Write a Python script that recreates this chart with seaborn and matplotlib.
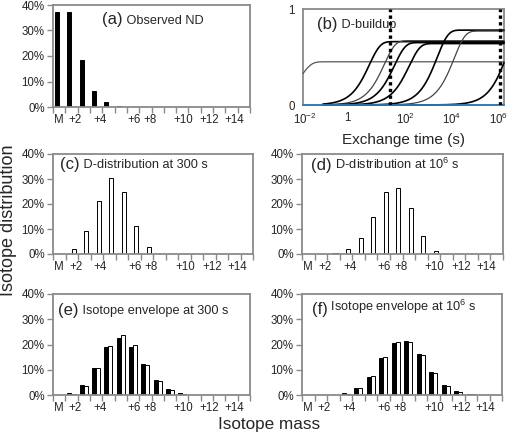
import numpy as np
import pandas as pd
import matplotlib
matplotlib.use("Agg")
import matplotlib.pyplot as plt
import matplotlib.transforms as mtransforms
import seaborn as sns

# -----------------------------
# Data (percent per isotope peak)
# -----------------------------
slots = ["M"] + ["+%d" % i for i in range(1, 16)]

observed_nd = [37.3, 37.1, 18.6, 6.3, 1.8, 0.5, 0, 0, 0, 0, 0, 0, 0, 0, 0, 0]
dist_300s = [0.2, 2.1, 9.1, 21.3, 30.4, 25.0, 11.3, 2.8, 0.2, 0.2, 0, 0, 0, 0, 0, 0]
dist_1e6s = [0, 0, 0.5, 2.0, 6.4, 15.0, 24.8, 26.6, 18.4, 7.3, 1.3, 0, 0, 0, 0, 0]
env_300s_obs = [0.1, 0.8, 4.0, 10.6, 19.0, 22.6, 19.0, 12.4, 6.1, 2.4, 0.8, 0.15, 0, 0, 0, 0]
env_300s_calc = [0.1, 0.5, 3.6, 10.6, 19.5, 23.6, 19.8, 12.0, 5.6, 2.0, 0.5, 0.1, 0, 0, 0, 0]
env_1e6s_obs = [0, 0, 0.1, 0.7, 2.8, 7.3, 14.7, 20.6, 21.4, 16.1, 9.3, 4.1, 1.7, 0.3, 0, 0]
env_1e6s_calc = [0, 0, 0.1, 0.4, 2.7, 7.6, 15.0, 20.9, 21.1, 15.9, 8.9, 3.7, 1.3, 0.3, 0, 0]

mass_labels = ["M", "+2", "+4", "+6", "+8", "+10", "+12", "+14"]

# D-buildup: plateau level and exchange rate (1/s) of each site group
plateaus = [0.45, 0.66, 0.67, 0.65, 0.64, 0.78, 0.77, 0.80, 0.0]
rates = [130, 0.23, 0.058, 0.023, 0.006, 4.6e-4, 9.6e-5, 8e-7, 0.0]
curve_colors = ["#555555", "black", "#444444", "black", "black", "black", "#444444", "black", "#2b7bba"]
curve_widths = [0.9, 1.2, 0.9, 1.2, 1.2, 1.2, 0.9, 1.2, 1.3]
snapshot_times = [30, 7e5]

# -----------------------------
# Style
# -----------------------------
sns.set_style("white")
plt.rcParams["font.family"] = ["Liberation Sans", "DejaVu Sans"]
plt.rcParams["mathtext.fontset"] = "custom"
plt.rcParams["mathtext.rm"] = "Liberation Sans"
plt.rcParams["mathtext.it"] = "Liberation Sans:italic"
SPINE = "#8a8a8a"

W, H = 508, 434
fig = plt.figure(figsize=(W / 100, H / 100), dpi=100)


def box(left, top, right, bottom):
    return fig.add_axes([left / W, (H - bottom) / H, (right - left) / W, (bottom - top) / H])


def style_axes(ax):
    for s in ax.spines.values():
        s.set_color(SPINE)
        s.set_linewidth(1.3)


def panel_title(ax, x, y, tag, text):
    t = ax.text(x, y, tag, transform=ax.transAxes, fontsize=12, va="bottom", ha="left")
    ax.annotate(" " + text, xy=(1, 0), xycoords=t, xytext=(0, 0.6),
                textcoords="offset points", fontsize=9.2, va="bottom", ha="left")


def bar_panel(ax, obs, calc, tag, text, tx, ty):
    rows = []
    for s, v in zip(slots, obs or []):
        rows.append((s, v, "obs"))
    for s, v in zip(slots, calc or []):
        rows.append((s, v, "calc"))
    df = pd.DataFrame(rows, columns=["slot", "value", "series"])
    sns.barplot(data=df, x="slot", y="value", hue="series", order=slots,
                hue_order=["obs", "calc"], palette={"obs": "black", "calc": "white"},
                edgecolor="black", linewidth=0.7, width=0.66, dodge=True,
                legend=False, ax=ax)
    ax.set_xlim(-0.5, 15.5)
    ax.set_ylim(0, 40)
    ax.set_yticks([0, 10, 20, 30, 40], ["0%", "10%", "20%", "30%", "40%"])
    ax.set_xticks(np.arange(-0.5, 16, 1), minor=True)
    ax.set_xticks([-0.05, 1.3, 3.3, 6.05, 7.35, 10.05, 12.2, 14.2], mass_labels)
    ax.tick_params(axis="x", which="major", length=0, pad=5, labelsize=8.3)
    ax.tick_params(axis="x", which="minor", length=4, width=1, color=SPINE, bottom=True)
    ax.tick_params(axis="y", length=4, width=1, color=SPINE, left=True, pad=2, labelsize=8.3)
    ax.set_xlabel("")
    ax.set_ylabel("")
    style_axes(ax)
    panel_title(ax, tx, ty, tag, text)


# (a) observed
ax_a = box(53, 5, 250, 107)
bar_panel(ax_a, observed_nd, None, "(a)", "Observed ND", 0.25, 0.78)

# (b) D-buildup
ax_b = box(303, 9, 504, 105)
t = np.logspace(-2, 6, 600)
for i, (p, k) in enumerate(zip(plateaus, rates)):
    start = 0.01 if i in (0, 8) else 0.06
    tt = t[t >= start]
    sns.lineplot(x=tt, y=p * (1 - np.exp(-k * tt)), color=curve_colors[i],
                 linewidth=curve_widths[i], ax=ax_b, zorder=3, clip_on=False)
for ts in snapshot_times:
    ax_b.axvline(ts, color="black", linestyle=(0, (1, 1)), linewidth=2.4, zorder=4)
ax_b.set_xscale("log")
ax_b.set_xlim(1e-2, 1e6)
ax_b.set_ylim(0, 1)
ax_b.set_xticks([1e-2, 1, 1e2, 1e4, 1e6],
                [r"$\mathregular{10^{-2}}$", "1", r"$\mathregular{10^{2}}$",
                 r"$\mathregular{10^{4}}$", r"$\mathregular{10^{6}}$"])
ax_b.set_xticks([], minor=True)
ax_b.set_yticks([0, 1], ["0", "1"])
ax_b.tick_params(length=0, labelsize=8.3, pad=5)
ax_b.tick_params(axis="y", pad=6)
for lab, dx in zip(ax_b.get_xticklabels(), [2, -6, 2, -2, -5]):
    lab.set_transform(lab.get_transform() + mtransforms.ScaledTranslation(dx / 100, 0, fig.dpi_scale_trans))
ax_b.set_xlabel("Exchange time (s)", fontsize=11, labelpad=4)
style_axes(ax_b)
panel_title(ax_b, 0.07, 0.76, "(b)", "D-buildup")

# (c), (d) D-distributions
ax_c = box(53, 154, 253, 254)
bar_panel(ax_c, None, dist_300s, "(c)", "D-distribution at 300 s", 0.035, 0.82)
ax_d = box(302, 154, 503, 254)
bar_panel(ax_d, None, dist_1e6s, "(d)", r"D-distribution at 10$\mathregular{^{6}}$ s", 0.045, 0.81)

# (e), (f) isotope envelopes
ax_e = box(53, 294, 250, 395)
bar_panel(ax_e, env_300s_obs, env_300s_calc, "(e)", "Isotope envelope at 300 s", 0.027, 0.76)
ax_f = box(302, 294, 502, 395)
bar_panel(ax_f, env_1e6s_obs, env_1e6s_calc, "(f)", r"Isotope envelope at 10$\mathregular{^{6}}$ s", 0.048, 0.77)

fig.text(9 / W, 1 - 220 / H, "Isotope distribution", rotation=90, fontsize=13,
         ha="center", va="center")
fig.text(269 / W, 1 - 424 / H, "Isotope mass", fontsize=12.3, ha="center", va="center")

fig.savefig("out.png", dpi=100)
